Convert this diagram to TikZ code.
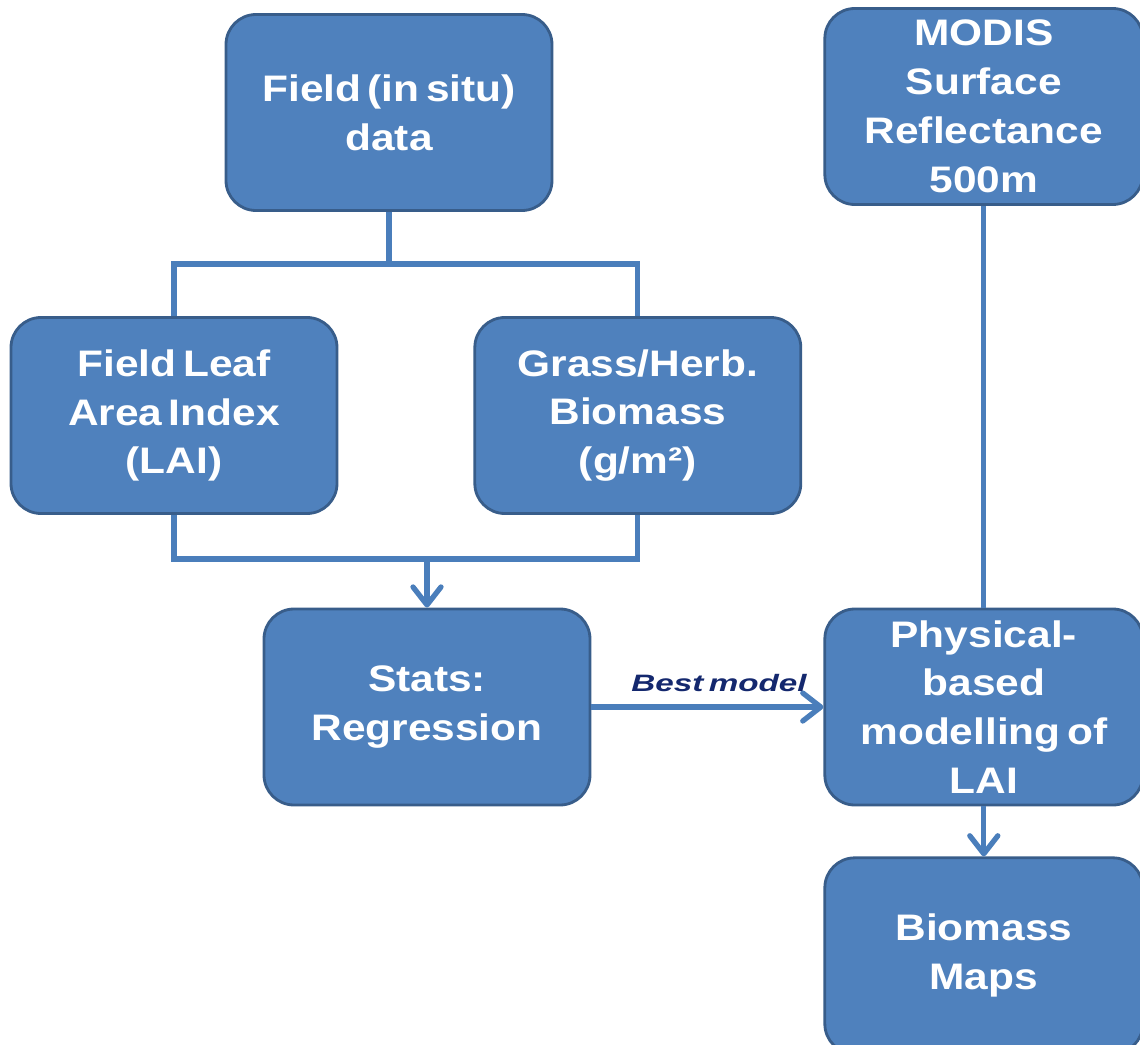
\documentclass[tikz,border=0pt]{standalone}
\usepackage{fontspec}
\setmainfont{Liberation Sans}[FakeStretch=1.15, WordSpace=0.55]
\newfontfamily\notefont{Liberation Sans}[FakeStretch=1.4, WordSpace=0.6]
\usepackage{xcolor}
\definecolor{boxfill}{HTML}{4F81BD}
\definecolor{boxline}{HTML}{385D8A}
\definecolor{linkcol}{HTML}{4A7EBB}
\definecolor{notecol}{HTML}{14286E}
\usepackage{tikz}
\usetikzlibrary{arrows.meta, positioning}

\begin{document}
\begin{tikzpicture}[>={Straight Barb[length=0.36cm, width=0.56cm, round]},
  box/.style={draw=boxline, line width=1.6pt, fill=boxfill, rounded corners=0.6cm,
              minimum width=6.52cm, minimum height=3.92cm, align=center, text=white,
              font=\bfseries\fontsize{21}{27.8}\selectfont},
  narrow/.style={minimum width=6.36cm},
  link/.style={linkcol, line width=3pt}]

  \useasboundingbox (0,0) rectangle (22.8,-20.9);

  \node[box] (field) at (7.78,-2.25) {Field (in situ)\\data};

  \node[box] (lai) at (3.48,-8.31) {Field Leaf\\Area Index\\(LAI)};
  \node[box, right=2.7cm of lai] (grass) {Grass/Herb.\\Biomass\\(g/m²)};

  \node[box] (stats) at (8.54,-14.14) {Stats:\\Regression};
  \node[box, narrow, right=4.64cm of stats] (phys) {Physical-\\based\\modelling of\\LAI};
  \node[box, narrow, below=1.0cm of phys] (maps) {Biomass\\Maps};
  \node[box, narrow] (modis) at (phys |- 0,-2.13) {MODIS\\Surface\\Reflectance\\500m};

  \draw[link] (field.south) -- ++(0,-1.04) coordinate (split);
  \draw[link] (lai.north) |- (split) -| (grass.north);

  \draw[link] (lai.south) -- ++(0,-0.88) coordinate (merge) -| (grass.south);
  \draw[link, ->] (stats.north |- merge) -- (stats.north);

  \draw[link] (modis.south) -- (phys.north);

  \draw[link, ->] (stats.east) -- node[above=4pt, pos=0.55, text=notecol,
    font=\notefont\bfseries\itshape\fontsize{13.5}{16}\selectfont] {Best model} (phys.west);

  \draw[link, ->] (phys.south) -- (maps.north);

\end{tikzpicture}
\end{document}
